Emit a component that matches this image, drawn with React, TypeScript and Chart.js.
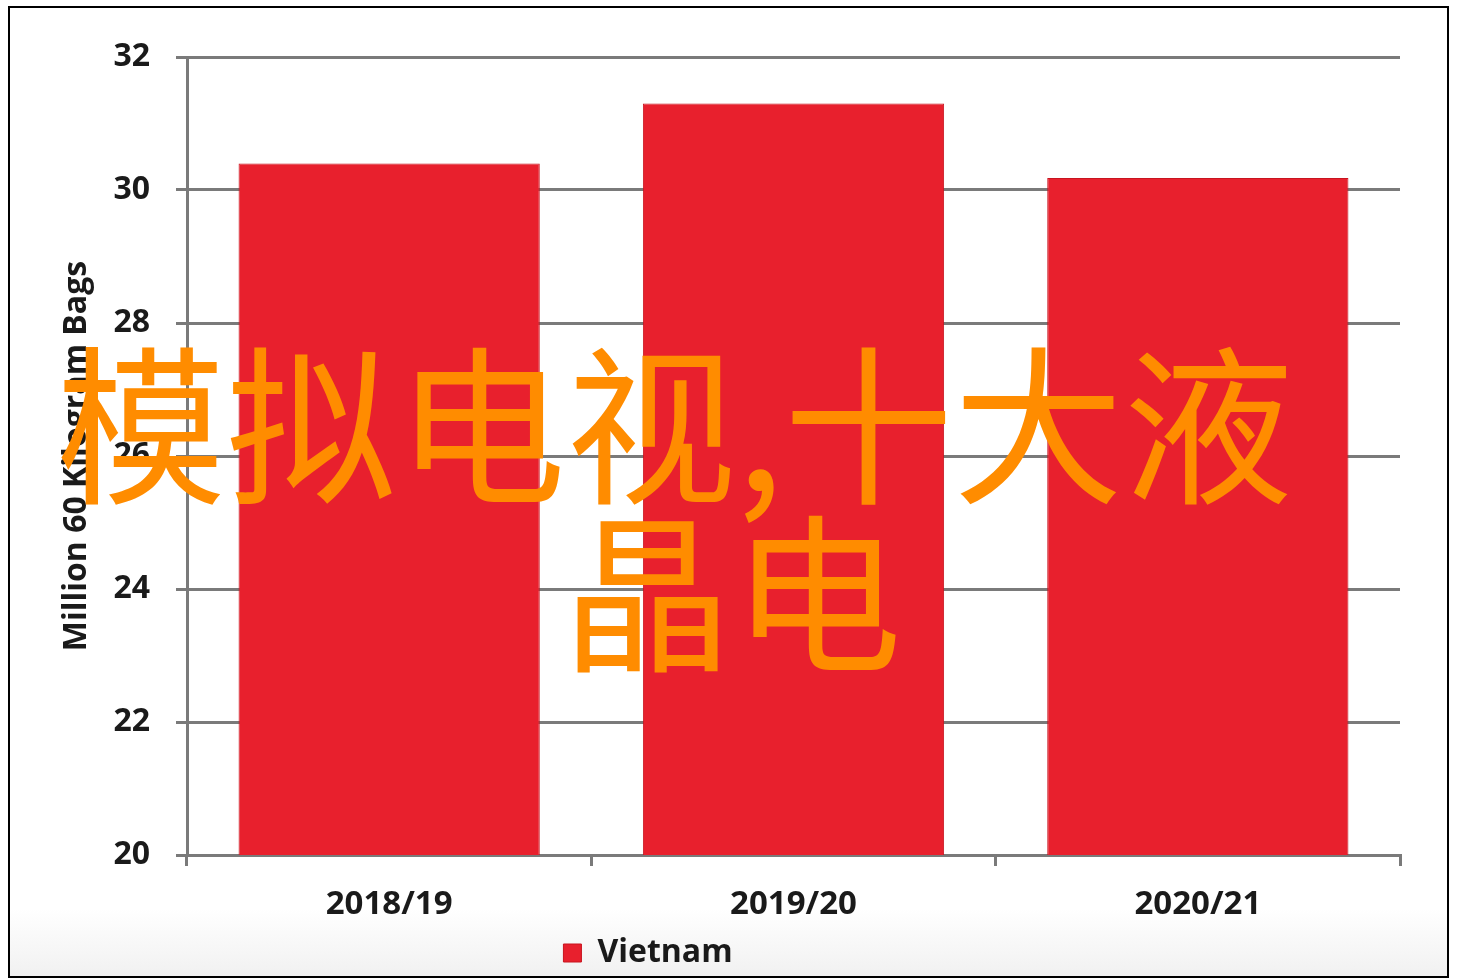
import { useEffect, useRef } from "react"
import { Chart, registerables } from "chart.js"

Chart.register(...registerables)

// data
const seasons = ["2018/19", "2019/20", "2020/21"]
const vietnam = [30.4, 31.3, 30.18]
const yTicks = [20, 22, 24, 26, 28, 30, 32]
const seriesName = "Vietnam"
const yTitle = "Million 60 Kilogram Bags"
const overlayLine1 = "模拟电视,十大液"
const overlayLine2 = "晶电"

const FONT = "'Open Sans', Lato, sans-serif"
const GRID = "#7a7a7a"
const RED = "#e8202d"

// the legend in the picture sits a little left of the page centre
const legendShift = {
  id: "legendShift",
  afterLayout(chart: any) {
    if (chart.legend) {
      chart.legend.right -= 104
    }
  },
}

export default function App() {
  const canvasRef = useRef<HTMLCanvasElement>(null)
  const chartRef = useRef<Chart | null>(null)

  useEffect(() => {
    document.body.style.margin = "0"
    if (!canvasRef.current) return

    if (chartRef.current) {
      chartRef.current.destroy()
    }

    const ctx = canvasRef.current.getContext("2d")
    if (!ctx) return

    chartRef.current = new Chart(ctx, {
      type: "bar",
      data: {
        labels: seasons,
        datasets: [
          {
            label: seriesName,
            data: vietnam,
            backgroundColor: RED,
            borderColor: "#c8141f",
            borderWidth: 1,
            barPercentage: 0.745,
            categoryPercentage: 1,
          },
        ],
      },
      plugins: [legendShift],
      options: {
        animation: false,
        responsive: true,
        maintainAspectRatio: false,
        layout: {
          padding: { top: 57, right: 62, left: 0, bottom: 1 },
        },
        plugins: {
          legend: {
            position: "bottom",
            labels: {
              color: "#1a1a1a",
              font: { family: FONT, size: 32, weight: 700 },
              boxWidth: 18,
              boxHeight: 18,
              padding: 10,
            },
          },
          tooltip: { enabled: false },
        },
        scales: {
          y: {
            min: 20,
            max: 32,
            afterBuildTicks: (scale: any) => {
              scale.ticks = yTicks.map((v) => ({ value: v }))
            },
            afterFit: (scale: any) => {
              scale.width = 187
            },
            border: { display: true, color: GRID, width: 3 },
            grid: {
              color: GRID,
              lineWidth: 3,
              tickLength: 11,
            },
            ticks: {
              color: "#1a1a1a",
              padding: 26,
              font: { family: FONT, size: 32, weight: 700 },
            },
            title: {
              display: true,
              text: yTitle,
              color: "#1a1a1a",
              font: { family: FONT, size: 32, weight: 700 },
              padding: { top: 58, bottom: 0 },
            },
          },
          x: {
            afterFit: (scale: any) => {
              scale.height = 72
            },
            border: { display: true, color: GRID, width: 3 },
            grid: {
              color: GRID,
              lineWidth: 3,
              drawOnChartArea: false,
              tickLength: 11,
            },
            ticks: {
              color: "#1a1a1a",
              padding: 19,
              font: { family: FONT, size: 33, weight: 700 },
            },
          },
        },
      },
    })

    return () => {
      if (chartRef.current) {
        chartRef.current.destroy()
      }
    }
  }, [])

  const overlayStyle: React.CSSProperties = {
    position: "absolute",
    fontFamily: "'Noto Sans CJK SC', sans-serif",
    fontSize: "170px",
    lineHeight: "170px",
    color: "#ff8c00",
    whiteSpace: "nowrap",
    pointerEvents: "none",
  }

  return (
    <div style={{ position: "relative", width: "1462px", height: "980px", background: "#fff" }}>
      <div
        style={{
          position: "absolute",
          left: "8px",
          top: "6px",
          width: "1437px",
          height: "968px",
          border: "2px solid #000",
          background: "linear-gradient(to bottom, #fff 93%, #f1f1f1 100%)",
        }}
      />
      <div style={{ position: "absolute", left: 0, top: 0, width: "1462px", height: "980px" }}>
        <canvas ref={canvasRef}></canvas>
      </div>
      <div style={{ ...overlayStyle, left: "56px", top: "332px" }}>{overlayLine1}</div>
      <div style={{ ...overlayStyle, left: "562px", top: "500px" }}>{overlayLine2}</div>
    </div>
  )
}
